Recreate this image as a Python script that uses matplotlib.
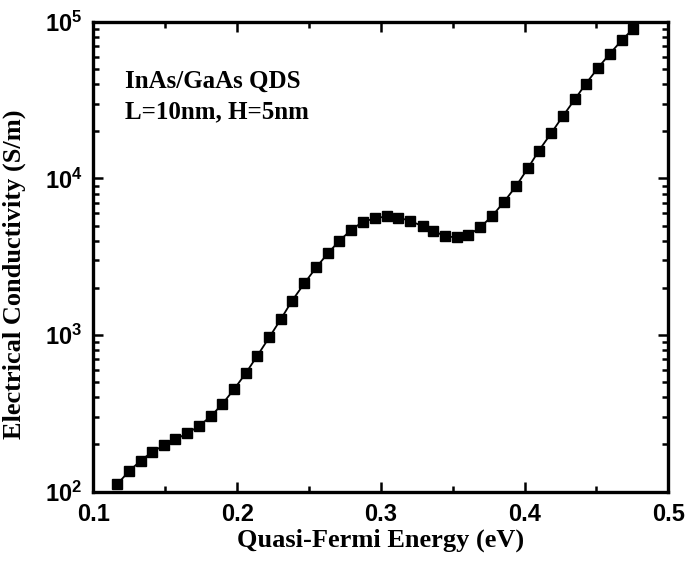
import numpy as np
import matplotlib
matplotlib.use("Agg")
import matplotlib.pyplot as plt
from matplotlib.ticker import LogLocator, MultipleLocator, NullFormatter

plt.rcParams["mathtext.fontset"] = "custom"
plt.rcParams["mathtext.bf"] = "Liberation Sans:bold"
plt.rcParams["mathtext.rm"] = "Liberation Sans:bold"

# Quasi-Fermi energy (eV) and conductivity (S/m)
energy = [0.1166, 0.1247, 0.1328, 0.1407, 0.1489, 0.1569, 0.1653, 0.1734,
          0.1816, 0.1896, 0.1978, 0.2059, 0.2140, 0.2223, 0.2305, 0.2381,
          0.2467, 0.2550, 0.2634, 0.2711, 0.2792, 0.2873, 0.2959, 0.3045,
          0.3121, 0.3203, 0.3291, 0.3365, 0.3446, 0.3528, 0.3608, 0.3690,
          0.3773, 0.3857, 0.3940, 0.4022, 0.4098, 0.4186, 0.4269, 0.4351,
          0.4427, 0.4513, 0.4594, 0.4676, 0.4756]
sigma = [111.7, 134.7, 157.4, 178.6, 197.2, 215.4, 235.3, 262, 302, 362,
         450, 569, 737, 966, 1268, 1652, 2136, 2705, 3352, 3999, 4680, 5288,
         5559, 5745, 5633, 5358, 4955, 4624, 4282, 4199, 4343, 4866, 5745,
         7093, 8935, 11590, 15010, 19550, 25240, 32210, 40420, 51170, 62850,
         76380, 90800]

x_ticks = [0.1, 0.2, 0.3, 0.4, 0.5]
y_ticks = [1e2, 1e3, 1e4, 1e5]
y_ticklabels = [r"$\mathbf{10^{2}}$", r"$\mathbf{10^{3}}$",
                r"$\mathbf{10^{4}}$", r"$\mathbf{10^{5}}$"]

fig = plt.figure(figsize=(6.9, 5.62), dpi=100)
ax = fig.add_axes([0.1355, 0.1254, 0.8331, 0.8355])

ax.plot(energy, sigma, color="black", lw=1.3, marker="s", ms=7,
        mfc="black", mec="black")

ax.set_yscale("log")
ax.set_xlim(0.1, 0.5)
ax.set_ylim(1e2, 1e5)

ax.set_xticks(x_ticks)
ax.set_xticklabels([f"{v:.1f}" for v in x_ticks])
ax.xaxis.set_minor_locator(MultipleLocator(0.05))
ax.set_yticks(y_ticks)
ax.set_yticklabels(y_ticklabels)
ax.yaxis.set_minor_locator(LogLocator(base=10, subs=np.arange(2, 10)))
ax.yaxis.set_minor_formatter(NullFormatter())

for lab in ax.get_xticklabels():
    lab.set_fontfamily("Liberation Sans")
    lab.set_fontweight("bold")
    lab.set_fontsize(17)
for lab in ax.get_yticklabels():
    lab.set_fontsize(17)

ax.tick_params(which="both", direction="in", top=True, right=True, width=1.8)
ax.tick_params(which="major", length=7, pad=8)
ax.tick_params(which="minor", length=4.5)
for sp in ax.spines.values():
    sp.set_linewidth(2.4)

ax.set_xlabel("Quasi-Fermi Energy (eV)", fontfamily="Liberation Serif",
              fontweight="bold", fontsize=19, labelpad=2)
ax.set_ylabel("Electrical Conductivity (S/m)", fontfamily="Liberation Serif",
              fontweight="bold", fontsize=19, labelpad=5)
ax.yaxis.set_label_coords(-0.118, 0.463)

ax.text(0.055, 0.859, "InAs/GaAs QDS", transform=ax.transAxes,
        fontfamily="Liberation Serif", fontweight="bold", fontsize=18,
        va="baseline", ha="left")
ax.text(0.055, 0.7955, "L=10nm, H=5nm", transform=ax.transAxes,
        fontfamily="Liberation Serif", fontweight="bold", fontsize=18,
        va="baseline", ha="left")

fig.savefig("out.png", dpi=100)
